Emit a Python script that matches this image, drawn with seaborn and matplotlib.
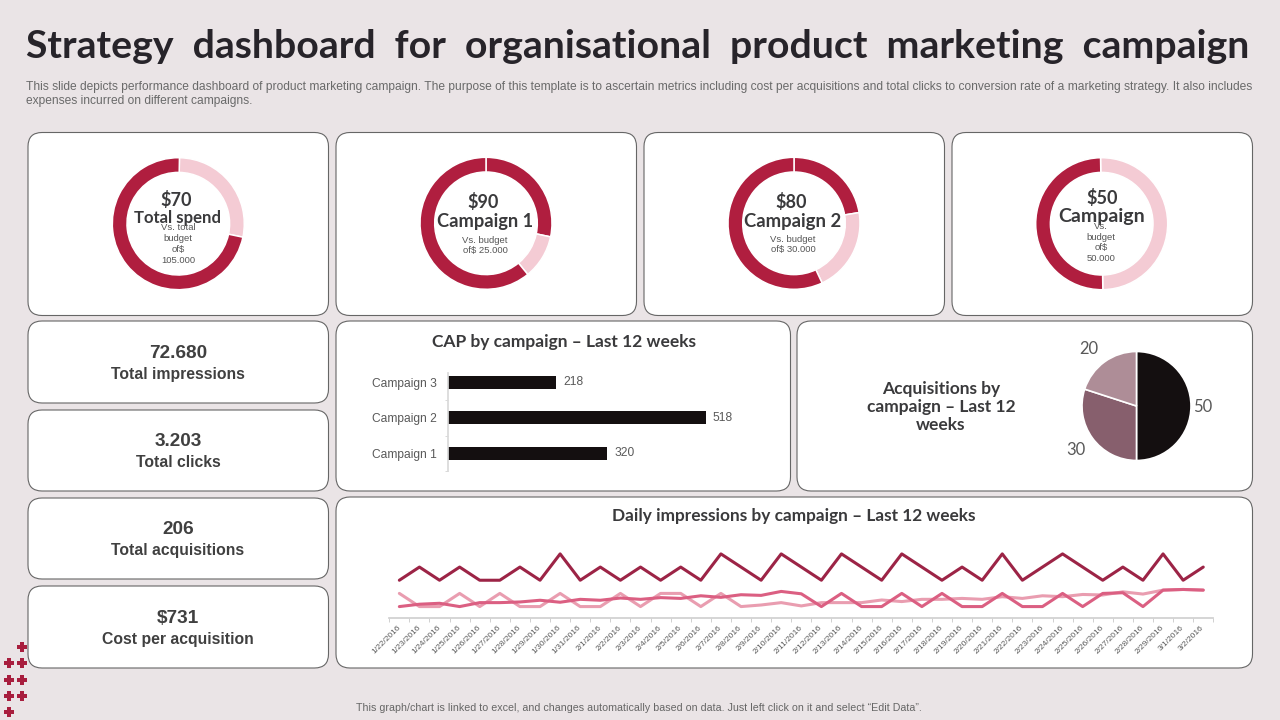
import matplotlib
matplotlib.use("Agg")
import matplotlib.pyplot as plt
from matplotlib.patches import FancyBboxPatch
import pandas as pd
import seaborn as sns

# ---------- data ----------
dates = ["1/22/2016","1/23/2016","1/24/2016","1/25/2016","1/26/2016","1/27/2016","1/28/2016","1/29/2016",
         "1/30/2016","1/31/2016","2/1/2016","2/2/2016","2/3/2016","2/4/2016","2/5/2016","2/6/2016","2/7/2016",
         "2/8/2016","2/9/2016","2/10/2016","2/11/2016","2/12/2016","2/13/2016","2/14/2016","2/15/2016",
         "2/16/2016","2/17/2016","2/18/2016","2/19/2016","2/20/2016","2/21/2016","2/22/2016","2/23/2016",
         "2/24/2016","2/25/2016","2/26/2016","2/27/2016","2/28/2016","2/29/2016","3/1/2016","3/2/2016"]
campaign_dark = [3,4,3,4,3,3,4,3,5,3,4,3,4,3,4,3,5,4,3,5,4,3,5,4,3,5,4,3,4,3,5,3,4,5,4,3,4,3,5,3,4]
campaign_pale = [2,1,1,2,1,2,1,1,2,1,1,2,1,2,2,1,2,1,1.12,1.3,1.05,1.3,1.3,1.3,1.5,1.38,1.55,1.55,1.62,1.55,
                 1.75,1.62,1.82,1.75,1.92,1.88,2.12,1.95,2.25,2.3,2.25]
campaign_mid = [1,1.18,1.25,1,1.3,1.3,1.35,1.48,1.33,1.55,1.48,1.65,1.55,1.68,1.62,1.82,1.7,1.9,1.85,2.15,1.97,
                1,2,1,1,2,1,2,1,1,2,1,1,2,1,2,2.05,1,2.25,2.3,2.25]
series_names = ["Campaign A", "Campaign B", "Campaign C"]

bar_categories = ["Campaign 3", "Campaign 2", "Campaign 1"]
bar_values = [218, 518, 320]

pie_labels = ["Campaign 1", "Campaign 2", "Campaign 3"]
pie_values = [50, 30, 20]

spend_parts = [28, 72]
campaign1_parts = [28.3, 10.8, 60.9]
campaign2_parts = [22.4, 20.6, 57.0]
campaign3_parts = [50, 50]

kpi_values = ["72.680", "3.203", "206", "$731"]
kpi_names = ["Total impressions", "Total clicks", "Total acquisitions", "Cost per acquisition"]

# ---------- style ----------
BG, INK = "#EAE4E6", "#3A3A3C"
DARK, PALE = "#B01E3F", "#F4CBD4"
sns.set_theme(style="white")
plt.rcParams["font.family"] = ["Liberation Sans", "DejaVu Sans"]
HEAD = "Lato"
W, H = 1280, 720
fig = plt.figure(figsize=(12.8, 7.2), dpi=100, facecolor=BG)


def box(x0, y0, x1, y1):
    return [x0 / W, 1 - y1 / H, (x1 - x0) / W, (y1 - y0) / H]


def overlay(z):
    a = fig.add_axes([0, 0, 1, 1], zorder=z)
    a.set_xlim(0, W)
    a.set_ylim(H, 0)
    a.axis("off")
    a.patch.set_alpha(0)
    return a


back = overlay(0)
top = overlay(20)


def put(x, y, s, px, family=None, weight="normal", color=INK, **kw):
    kw.setdefault("ha", "center")
    kw.setdefault("va", "center")
    return top.text(x, y, s, fontsize=px * 0.72, family=family or plt.rcParams["font.family"],
                    fontweight=weight, color=color, **kw)


cards = [(28, 132.5, 328.5, 315.5), (336, 132.5, 636.5, 315.5), (644, 132.5, 944.5, 315.5), (952, 132.5, 1252.5, 315.5),
         (28, 321, 328.5, 403), (28, 410, 328.5, 491), (28, 498, 328.5, 579), (28, 586, 328.5, 668),
         (336, 321, 790.5, 491), (797, 321, 1252.5, 491), (336, 497, 1252.5, 668)]
for x0, y0, x1, y1 in cards:
    back.add_patch(FancyBboxPatch((x0, y0), x1 - x0, y1 - y0, boxstyle="round,pad=0,rounding_size=14",
                                  fc="white", ec="#666666", lw=0.8))

# decorative crosses
back.scatter([22, 9, 22, 9, 22, 9, 22, 9], [647, 663, 663, 679.5, 679.5, 696, 696, 712], marker="P", s=50,
             color="#A81E3E", linewidths=0)

# ---------- title ----------
put(26, 46.5, "Strategy  dashboard  for  organisational  product  marketing  campaign", 39.3, family=HEAD, weight="bold",
    color="#27242A", ha="left")
put(25.5, 94,
    "This slide depicts performance dashboard of product marketing campaign. The purpose of this template is to "
    "ascertain metrics including cost per acquisitions and total clicks to conversion rate of a marketing strategy. "
    "It also includes\nexpenses incurred on different campaigns.", 12.0, color="#6A6A6A", ha="left", linespacing=1.12)
put(639, 708, "This graph/chart is linked to excel, and changes automatically based on data. Just left click on it "
    "and select \u201cEdit Data\u201d.", 10.6, color="#666666")


# ---------- donuts ----------
def donut(cx, cy, parts, colors, start):
    R = 66
    a = fig.add_axes(box(cx - R, cy - R, cx + R, cy + R), zorder=5)
    a.pie(parts, colors=colors, startangle=start, counterclock=False, radius=1,
          wedgeprops=dict(width=14.7 / R, edgecolor="white", linewidth=1.1))
    a.set_xlim(-1, 1)
    a.set_ylim(-1, 1)


donut(178.3, 223.7, spend_parts, [PALE, DARK], 89)
donut(486, 223.3, campaign1_parts, [DARK, PALE, DARK], 90)
donut(794, 223.3, campaign2_parts, [DARK, PALE, DARK], 90)
donut(1101.7, 223.7, campaign3_parts, [PALE, DARK], 91)

for x, y, s in [(175.7, 199.5, "$70"), (483.5, 202.5, "$90"), (791.5, 201.5, "$80"), (1101.7, 198, "$50")]:
    put(x, y, s, 18, family=HEAD, weight="bold")
for x, y, s, px in [(178, 218, "Total spend", 16.7), (485, 222, "Campaign 1", 18.3),
                    (793, 221, "Campaign 2", 18.5), (1102, 216.5, "Campaign", 19.5)]:
    put(x, y, s, px, family=HEAD, weight="bold")
for x, y, s in [(178, 244, "Vs. total\nbudget\nof$\n105.000"), (485, 245.5, "Vs. budget\nof$ 25.000"),
                (793, 244.5, "Vs. budget\nof$ 30.000"), (1101, 242.5, "Vs.\nbudget\nof$\n50.000")]:
    put(x, y, s, 9.5, color="#555555", linespacing=1.28)

# ---------- KPI cards ----------
for val, name, y1, y2 in zip(kpi_values, kpi_names, [353.5, 441.5, 529.5, 618.5], [374.5, 462.5, 550.5, 639.5]):
    put(178, y1, val, 19, weight="bold", color="#404040")
    put(178, y2, name, 15.8, weight="bold", color="#404040")

# ---------- bars ----------
put(564, 342, "CAP by campaign \u2013 Last 12 weeks", 17.4, family=HEAD, weight="bold")
ax = fig.add_axes(box(447.7, 364.5, 740, 471), zorder=5)
ax.patch.set_alpha(0)
bars = pd.DataFrame({"campaign": bar_categories, "value": bar_values})
sns.barplot(data=bars, x="value", y="campaign", order=bar_categories, color="#140F10", saturation=1, width=0.36,
            linewidth=0, ax=ax)
ax.set_xlim(0, (740 - 447.7) / 0.4987)
ax.bar_label(ax.containers[0], padding=5, fontsize=8.64, color="#595959")
ax.set(xlabel="", ylabel="", xticks=[])
sns.despine(ax=ax, bottom=True, right=True, top=True)
ax.spines["left"].set_color("#D9D9D9")
ax.spines["left"].set_bounds(-0.26, 2.5)
ax.set_yticks([0.5, 1.5, 2.5], minor=True)
ax.tick_params(axis="y", which="minor", left=True, length=2.5, width=0.7, color="#D9D9D9")
ax.tick_params(axis="y", which="major", left=False, pad=1.6, labelsize=8.64, labelcolor="#595959")

# ---------- pie ----------
put(941, 407, "Acquisitions by\ncampaign \u2013 Last 12\nweeks", 17.4, family=HEAD, weight="bold", linespacing=1.17)
R = 54.5
ax = fig.add_axes(box(1136.5 - R, 406 - R, 1136.5 + R, 406 + R), zorder=5)
ax.pie(pie_values, colors=["#140F10", "#875F6D", "#AE8D97"], startangle=90, counterclock=False,
       wedgeprops=dict(edgecolor="white", linewidth=1.2))
ax.set_xlim(-1, 1)
ax.set_ylim(-1, 1)
for v, x, y in zip(pie_values, [1203, 1076, 1089], [407.5, 450, 349]):
    put(x, y, str(v), 16.5, family=HEAD, color="#595959")

# ---------- lines ----------
put(794, 516, "Daily impressions by campaign \u2013 Last 12 weeks", 17.3, family=HEAD, weight="bold")
ax = fig.add_axes(box(389.3, 540, 1213.3, 618.3), zorder=5)
ax.patch.set_alpha(0)
lines = pd.DataFrame({
    "date": dates * 3,
    "value": campaign_pale + campaign_mid + campaign_dark,
    "series": [n for n in series_names for _ in dates],
})
sns.lineplot(data=lines, x="date", y="value", hue="series", sort=False, legend=False, errorbar=None, ax=ax,
             palette=dict(zip(series_names, ["#E99DB0", "#DB5F82", "#9C2446"])), linewidth=2.2)
ax.set_xlim(-0.5, len(dates) - 0.5)
ax.set_ylim(0.11, 0.11 + (618.3 - 540) / 13.17)
ax.set(xlabel="", ylabel="", yticks=[])
sns.despine(ax=ax, left=True)
ax.spines["bottom"].set_color("#D0D0D0")
ax.set_xticks(range(len(dates)))
ax.set_xticklabels(dates, rotation=45, ha="right", va="center", rotation_mode="anchor", fontsize=6, color="#595959")
ax.set_xticks([i - 0.5 for i in range(len(dates) + 1)], minor=True)
ax.tick_params(axis="x", which="major", bottom=False, pad=0)
ax.tick_params(axis="x", which="minor", bottom=True, length=3, width=0.7, color="#D0D0D0")

fig.savefig("out.png", dpi=100, facecolor=BG)
